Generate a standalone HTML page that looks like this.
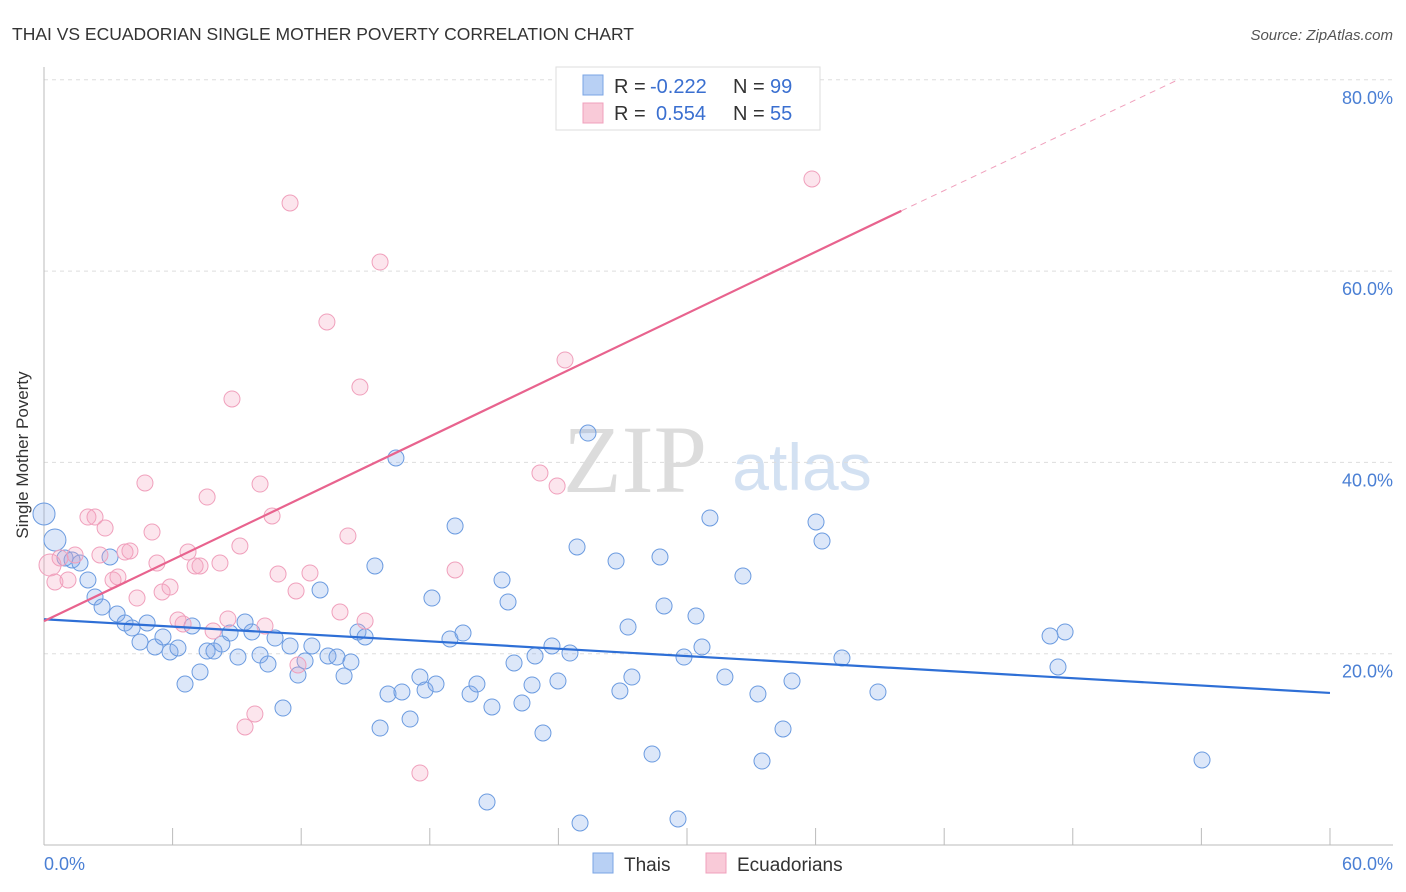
<!DOCTYPE html>
<html><head><meta charset="utf-8"><style>
body{margin:0;background:#fff;font-family:"Liberation Sans",sans-serif}
svg{display:block}
</style></head><body>
<svg width="1406" height="892" xmlns="http://www.w3.org/2000/svg">
<text x="12" y="40" font-size="17.5" fill="#333">THAI VS ECUADORIAN SINGLE MOTHER POVERTY CORRELATION CHART</text>
<text x="1393" y="40" font-size="15" fill="#555" font-style="italic" text-anchor="end">Source: ZipAtlas.com</text>
<g>
<text x="635" y="492" font-size="96" font-family="Liberation Serif,serif" fill="#d4d4d4" text-anchor="middle" opacity="0.8">ZIP</text>
<text x="802" y="490" font-size="66" fill="#c9daf0" text-anchor="middle" opacity="0.8">atlas</text>
</g>
<g id="grid"></g>
<line x1="44" y1="67" x2="44" y2="845" stroke="#bbb"/>
<line x1="44" y1="845" x2="1393" y2="845" stroke="#bbb"/>
<g id="ticks"></g>
<text x="28" y="455" font-size="17" fill="#333" text-anchor="middle" transform="rotate(-90 28 455)">Single Mother Poverty</text>
<text x="44" y="870" font-size="18" fill="#4a7fd4">0.0%</text>
<text x="1393" y="870" font-size="18" fill="#4a7fd4" text-anchor="end">60.0%</text>
<g id="pts"></g>
<g id="lines"></g>
<g>
<rect x="556" y="67" width="264" height="63" fill="#fff" stroke="#ddd"/>
<rect x="583" y="75" width="20" height="20" fill="#b8d0f4" stroke="#7aa4e4"/>
<rect x="583" y="103" width="20" height="20" fill="#f9cad8" stroke="#f0a0bc"/>
<text x="614" y="93" font-size="20" fill="#333">R =</text>
<text x="650" y="93" font-size="20" fill="#3a6fd0">-0.222</text>
<text x="733" y="93" font-size="20" fill="#333">N =</text>
<text x="770" y="93" font-size="20" fill="#3a6fd0">99</text>
<text x="614" y="120" font-size="20" fill="#333">R =</text>
<text x="656" y="120" font-size="20" fill="#3a6fd0">0.554</text>
<text x="733" y="120" font-size="20" fill="#333">N =</text>
<text x="770" y="120" font-size="20" fill="#3a6fd0">55</text>
</g>
<g>
<rect x="593" y="853" width="20" height="20" fill="#b8d0f4" stroke="#7aa4e4"/>
<text x="624" y="871" font-size="19" fill="#333">Thais</text>
<rect x="706" y="853" width="20" height="20" fill="#f9cad8" stroke="#f0a0bc"/>
<text x="737" y="871" font-size="19" fill="#333">Ecuadorians</text>
</g>
</svg>
<script>
const yTicks=[20,40,60,80];
const yTickLabels=["20.0%","40.0%","60.0%","80.0%"];
const bluePx=[[44,514],[55,540],[65,558],[72,560],[80,563],[88,580],[95,597],[102,607],[110,557],[117,614],[125,623],[132,628],[140,642],[147,623],[155,647],[163,637],[170,652],[178,648],[185,684],[192,626],[200,672],[207,651],[214,651],[222,644],[230,633],[238,657],[245,622],[252,632],[260,655],[268,664],[275,638],[283,708],[290,646],[298,675],[305,661],[312,646],[320,590],[328,656],[337,657],[344,676],[351,662],[358,632],[365,637],[375,566],[380,728],[388,694],[396,458],[402,692],[410,719],[420,677],[425,690],[432,598],[436,684],[450,639],[455,526],[463,633],[470,694],[477,684],[487,802],[492,707],[502,580],[508,602],[514,663],[522,703],[532,685],[535,656],[543,733],[552,646],[558,681],[570,653],[577,547],[580,823],[588,433],[616,561],[620,691],[628,627],[632,677],[652,754],[660,557],[664,606],[678,819],[684,657],[696,616],[702,647],[710,518],[725,677],[743,576],[758,694],[762,761],[783,729],[792,681],[816,522],[822,541],[842,658],[878,692],[1050,636],[1058,667],[1065,632],[1202,760]];
const pinkPx=[[50,565],[55,582],[60,558],[68,580],[75,555],[88,517],[95,517],[100,555],[105,528],[113,580],[118,577],[125,552],[130,551],[137,598],[145,483],[152,532],[157,563],[162,592],[170,587],[178,620],[183,624],[188,552],[195,566],[200,566],[207,497],[213,631],[220,563],[228,619],[232,399],[240,546],[245,727],[255,714],[260,484],[265,626],[272,516],[278,574],[290,203],[296,591],[298,665],[310,573],[327,322],[340,612],[348,536],[360,387],[365,621],[380,262],[420,773],[455,570],[540,473],[557,486],[565,360],[578,95],[812,179]];
const thaiX=bluePx.map(p=>+((p[0]-44)/21.433).toFixed(2));
const thaiY=bluePx.map(p=>+((845-p[1])/9.565).toFixed(2));
const ecuX=pinkPx.map(p=>+((p[0]-44)/21.433).toFixed(2));
const ecuY=pinkPx.map(p=>+((845-p[1])/9.565).toFixed(2));
const blueTrend=[[0,23.6],[60,15.9]];
const pinkTrend=[[0,23.4],[40,66.3]];
const pinkDash=[[40,66.3],[53,80.1]];
const X=v=>44+v*21.433, Y=v=>845-v*9.565;
const NS="http://www.w3.org/2000/svg";
function mk(t,a,parent){const e=document.createElementNS(NS,t);for(const k in a)e.setAttribute(k,a[k]);document.getElementById(parent).appendChild(e);return e;}
yTicks.forEach((t,i)=>{
 const l=mk('line',{x1:44,x2:1393,y1:Y(t),y2:Y(t),stroke:'#ddd','stroke-dasharray':'4,4'},'grid');
 
 
 const tx=mk('text',{x:1393,y:Y(t)+24,'font-size':18,fill:'#4a7fd4','text-anchor':'end'},'grid');
 tx.textContent=yTickLabels[i];
 
 
});
for(let i=0;i<=10;i++){
 const l=mk('line',{x1:X(i*6),x2:X(i*6),y1:828,y2:845,stroke:'#bbb'},'ticks');
 
 
}
thaiX.forEach((x,i)=>{
 const r=i<2?11:8;
 const c=mk('circle',{cx:X(x),cy:Y(thaiY[i]),r:r,fill:'rgba(130,170,235,0.28)',stroke:'#6b9be0','stroke-width':1},'pts');
 
 
});
ecuX.forEach((x,i)=>{
 const r=i<1?11:8;
 const c=mk('circle',{cx:X(x),cy:Y(ecuY[i]),r:r,fill:'rgba(245,160,190,0.28)',stroke:'#f0a0bc','stroke-width':1},'pts');
 
 
});
let l=mk('line',{x1:X(blueTrend[0][0]),y1:Y(blueTrend[0][1]),x2:X(blueTrend[1][0]),y2:Y(blueTrend[1][1]),stroke:'#2e6fd6','stroke-width':2.2},'lines');


l=mk('line',{x1:X(pinkTrend[0][0]),y1:Y(pinkTrend[0][1]),x2:X(pinkTrend[1][0]),y2:Y(pinkTrend[1][1]),stroke:'#e8638e','stroke-width':2.2},'lines');


l=mk('line',{x1:X(pinkDash[0][0]),y1:Y(pinkDash[0][1]),x2:X(pinkDash[1][0]),y2:Y(pinkDash[1][1]),stroke:'#f0a0bc','stroke-width':1,'stroke-dasharray':'6,5'},'lines');


</script>
</body></html>
